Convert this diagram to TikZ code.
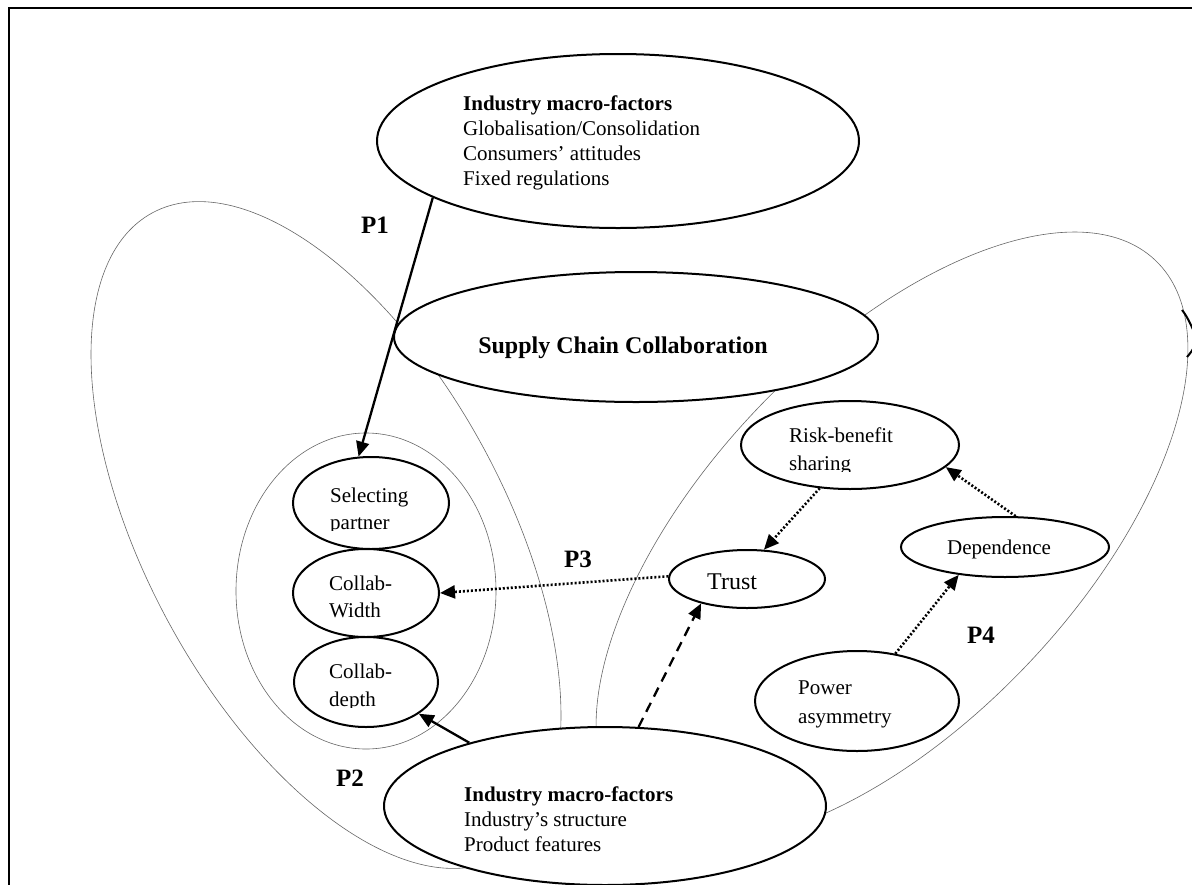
\documentclass[tikz,border=0pt]{standalone}
\usepackage{fontspec}
\setmainfont{Liberation Serif}
\usetikzlibrary{shapes.geometric,arrows.meta}
\begin{document}
\begin{tikzpicture}[x=1pt,y=-1pt,
  bubble/.style={draw, ellipse, line width=2pt, fill=white, inner sep=0pt},
  halo/.style={draw=black!60, line width=0.6pt, ellipse, inner sep=0pt},
  conn/.style={line width=2.3pt, -{Triangle[length=15pt,width=13pt]}},
  dotconn/.style={conn, line width=2.6pt, dash pattern=on 2pt off 2pt},
  dashconn/.style={conn, dash pattern=on 10pt off 7pt},
  txt/.style={font=\fontsize{21}{25}\selectfont, inner sep=0pt},
  bigtxt/.style={font=\fontsize{24}{28}\selectfont, inner sep=0pt},
  plabel/.style={font=\fontsize{25}{30}\selectfont\bfseries, inner sep=0pt}]
\path[use as bounding box] (0,0) rectangle (1192,884);
\clip (0,0) rectangle (1192,884);

% page frame
\draw[line width=2pt] (9,890) -- (9,8) -- (1200,8);

% thin outlines of the two domains and of the collaboration group
\node[halo, minimum width=732pt, minimum height=360pt, rotate=-61.7] (leftdomain) at (326,535) {};
\node[halo, minimum width=764pt, minimum height=372pt, rotate=46.4] (rightdomain) at (892,537) {};
\node[halo, minimum width=260pt, minimum height=316pt] (group) at (366,591) {};

% partly visible shape at the right edge
\draw[line width=2pt] (1182,310) .. controls (1187,316) and (1191,325) .. (1195,334);
\draw[line width=2pt] (1195,345) .. controls (1192,351) .. (1187,357);

% main ellipses
\node[bubble, minimum width=482pt, minimum height=174pt] (macroA) at (618,141) {};
\node[bubble, minimum width=484pt, minimum height=130pt] (scc) at (636,337) {};
\node[bubble, minimum width=442pt, minimum height=158pt] (macroB) at (605,806) {};
\node[bubble, minimum width=156pt, minimum height=92pt] (select) at (371,503) {};
\node[bubble, minimum width=146pt, minimum height=88pt] (width) at (366,593) {};
\node[bubble, minimum width=144pt, minimum height=90pt] (depth) at (366,682) {};
\node[bubble, minimum width=156pt, minimum height=58pt] (trust) at (747,579) {};
\node[bubble, minimum width=218pt, minimum height=88pt] (risk) at (850,445) {};
\node[bubble, minimum width=208pt, minimum height=60pt] (dep) at (1005,547) {};
\node[bubble, minimum width=204pt, minimum height=100pt] (power) at (857,701) {};

% texts
\node[txt, anchor=base west] (a1) at (463,110) {\bfseries Industry macro-factors};
\node[txt, anchor=base west] (a2) at (463,135) {Globalisation/Consolidation};
\node[txt, anchor=base west] (a3) at (463,160) {Consumers’ attitudes};
\node[txt, anchor=base west] (a4) at (463,185) {Fixed regulations};

\node[bigtxt, anchor=base, font=\fontsize{24}{28}\selectfont\bfseries] (scct) at (623,353) {Supply Chain Collaboration};

\node[txt, anchor=base west] (b1) at (464,801) {\bfseries Industry macro-factors};
\node[txt, anchor=base west] (b2) at (464,826) {Industry’s structure};
\node[txt, anchor=base west] (b3) at (464,851) {Product features};

\node[txt, anchor=base west] (s1) at (330,502) {Selecting};
\begin{scope}
  \clip (290,505) rectangle (450,530);
  \node[txt, anchor=base west] (s2) at (330,529) {partner};
\end{scope}
\node[txt, anchor=base west] (w1) at (329,590) {Collab-};
\node[txt, anchor=base west] (w2) at (329,617) {Width};
\node[txt, anchor=base west] (d1) at (329,678) {Collab-};
\begin{scope}
  \clip (290,682) rectangle (450,707);
  \node[txt, anchor=base west] (d2) at (329,706) {depth};
\end{scope}

\node[bigtxt, anchor=base west] (tt) at (707,589) {Trust};
\node[txt, anchor=base west] (r1) at (789,442) {Risk-benefit};
\begin{scope}
  \clip (740,446) rectangle (960,471);
  \node[txt, anchor=base west] (r2) at (789,470) {sharing};
\end{scope}
\node[txt, anchor=base] (dt) at (999,554) {Dependence};
\node[txt, anchor=base west] (pw1) at (798,694) {Power};
\node[txt, anchor=base west] (pw2) at (798,723) {asymmetry};

% proposition labels
\node[plabel, anchor=base] (p1) at (375,233) {P1};
\node[plabel, anchor=base] (p2) at (350,786) {P2};
\node[plabel, anchor=base] (p3) at (578,567) {P3};
\node[plabel, anchor=base] (p4) at (981,643) {P4};

% connectors
\draw[conn] (macroA.197.5) -- (select.105.6);
\draw[conn] (macroB.155.6) -- (depth.-31.3);
\draw[dashconn] (macroB.67.7) -- (trust.208.6);
\draw[dotconn] (risk.235.4) -- (trust.60.3);
\draw[dotconn] (dep.71.6) -- (risk.-13);
\draw[dotconn] (power.51.8) -- (dep.211);
\draw[dotconn] (trust.178) -- (width.0);
\end{tikzpicture}
\end{document}
